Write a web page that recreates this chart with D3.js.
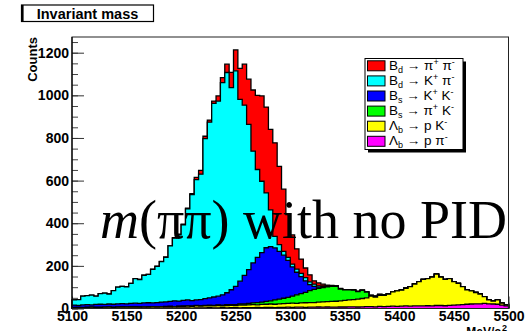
<!DOCTYPE html>
<html>
<head>
<meta charset="utf-8">
<script src="https://cdn.jsdelivr.net/npm/d3@7/dist/d3.min.js"></script>
<style>
  body { margin: 0; background: #fff; }
  text { font-family: "Liberation Sans", Arial, Helvetica, sans-serif; }
</style>
</head>
<body>
<div id="viz"></div>
<script>
// histogram binning: 100 bins of 4 MeV from 5100 to 5500
const binLow = 5100, binWidth = 4, nBins = 100;

// counts per bin for each decay (read off the plot, not stacked)
const lbppi = [1,2,1,2,2,1,2,2,1,2, 2,2,1,2,2,2,3,2,2,3, 2,3,3,2,3,3,3,2,3,3,
  3,4,3,3,4,3,4,4,3,4, 4,4,5,4,5,5,4,5,5,6, 5,6,6,5,6,6,7,6,7,6,
  6,7,7,8,8,7,8,9,9,8, 10,9,10,11,10,11,12,11,12,12, 12,13,12,14,14,13,15,16,17,18,
  20,21,22,22,24,22,21,20,16,12];
const lbpk = [3,3,3,3,4,4,3,4,5,3, 4,5,5,5,5,4,5,5,6,5, 6,6,6,6,7,7,8,8,9,8,
  9,9,9,11,9,11,11,10,13,12, 13,14,12,15,15,16,16,17,18,18, 20,18,20,22,22,22,23,25,25,27,
  28,29,31,32,34,37,39,41,49,46, 52,53,57,67,73,75,83,92,103,114, 125,127,135,147,133,124,125,110,101,85,
  67,62,53,46,32,18,14,20,9,5];
const bspik = [1,0,1,1,0,1,1,0,1,1, 1,0,1,1,1,1,0,1,1,1, 1,1,2,1,1,2,1,2,2,2,
  2,3,2,3,3,4,3,4,5,5, 7,8,11,11,13,15,20,22,25,28, 33,40,44,49,56,62,64,67,70,71,
  70,55,49,48,44,35,38,27,3,3, 3,2,1,1,1,1,0,0,0,0, 0,0,0,0,0,0,0,0,0,0,
  0,0,0,0,0,0,0,0,0,0];
const bskk = [11,10,12,12,11,13,14,13,14,14, 15,16,15,16,17,17,18,19,17,19, 21,21,22,27,24,26,28,25,26,29,
  32,34,40,41,48,56,70,86,107,134, 158,188,212,232,252,254,244,224,202,174, 137,106,80,54,28,14,6,4,2,2,
  1,1,1,1,1,1,1,1,1,1, 1,1,1,0,0,0,0,0,0,0, 0,0,0,0,0,0,0,0,0,0,
  0,0,0,0,0,0,0,0,0,0];
const bdkpi = [24,27,41,42,46,39,50,53,47,64, 78,81,80,94,115,112,130,133,158,170, 190,209,261,294,311,355,427,497,565,588,
  751,824,908,915,996,1033,948,1011,853,799, 682,524,412,335,257,173,54,32,18,14, 13,15,15,15,13,10,6,4,2,1,
  1,1,1,0,0,0,0,0,0,0, 0,0,0,0,0,0,0,0,0,0, 0,0,0,0,0,0,0,0,0,0,
  0,0,0,0,0,0,0,0,0,0];
const bdpipi = [0,0,0,0,0,0,0,0,0,0, 0,0,0,0,0,0,1,0,1,1, 1,2,1,2,3,3,4,5,10,18,
  11,10,11,24,23,39,72,98,145,192, 212,287,348,400,403,377,439,367,292,200, 137,95,67,45,33,16,14,8,4,1,
  0,1,0,0,0,0,0,0,0,0, 0,0,0,0,0,0,0,0,0,0, 0,0,0,0,0,0,0,0,0,0,
  0,0,0,0,0,0,0,0,0,0];

// stacking order, bottom to top
const stackKeys = ["lbppi", "lbpk", "bspik", "bskk", "bdkpi", "bdpipi"];
const series = {lbppi, lbpk, bspik, bskk, bdkpi, bdpipi};
const colors = {
  "bdpipi": "#ff0000",
  "bdkpi": "#00ffff",
  "bskk": "#0000ff",
  "bspik": "#00ff00",
  "lbpk": "#ffff00",
  "lbppi": "#ff00ff"
};

// legend, top to bottom
const legendKeys = ["bdpipi", "bdkpi", "bskk", "bspik", "lbpk", "lbppi"];
const legendMother = ["B", "B", "B", "B", "Λ", "Λ"];
const legendSub = ["d", "d", "s", "s", "b", "b"];
const legendDaughters = [
  [["π", "+"], ["π", "-"]],
  [["K", "+"], ["π", "-"]],
  [["K", "+"], ["K", "-"]],
  [["π", "+"], ["K", "-"]],
  [["p", ""], ["K", "-"]],
  [["p", ""], ["π", "-"]]
];

const xTicks = [5100, 5150, 5200, 5250, 5300, 5350, 5400, 5450, 5500];
const yTicks = [0, 200, 400, 600, 800, 1000, 1200];

const W = 531, H = 331;
const plot = {left: 72, right: 508.5, top: 37, bottom: 308.5};

const svg = d3.select("#viz")
  .append("svg")
    .attr("width", W)
    .attr("height", H);

const rows = d3.range(nBins).map(i => {
  const r = {lo: binLow + i * binWidth};
  stackKeys.forEach(k => r[k] = series[k][i]);
  return r;
});
const stacked = d3.stack().keys(stackKeys)(rows);
const totals = rows.map(r => d3.sum(stackKeys, k => r[k]));

const x = d3.scaleLinear().domain([5100, 5500]).range([plot.left, plot.right]);
const y = d3.scaleLinear().domain([0, d3.max(totals) * 1.05]).range([plot.bottom, plot.top]);

// axes first, the histograms cover them like in ROOT
svg.append("g")
  .attr("transform", "translate(0," + plot.bottom + ")")
  .call(d3.axisBottom(x).tickValues(d3.range(5100, 5501, 10)).tickSize(-6).tickFormat(""))
  .call(g => g.select(".domain").remove())
  .selectAll("line").attr("stroke", "#444");

svg.append("g")
  .attr("transform", "translate(" + plot.left + ",0)")
  .call(d3.axisLeft(y).tickValues(d3.range(0, 1251, 50)).tickSize(-6).tickFormat(""))
  .call(g => g.select(".domain").remove())
  .selectAll("line").attr("stroke", "#444");

const yAxis = svg.append("g")
  .attr("transform", "translate(" + plot.left + ",0)")
  .call(d3.axisLeft(y).tickValues(yTicks).tickSize(-12).tickPadding(3).tickFormat(d3.format("d")));
yAxis.select(".domain").remove();
yAxis.selectAll("line").attr("stroke", "#333");
yAxis.selectAll("text")
  .attr("font-size", 14).attr("font-weight", "bold").attr("fill", "#000");

const xAxis = svg.append("g")
  .attr("transform", "translate(0," + plot.bottom + ")")
  .call(d3.axisBottom(x).tickValues(xTicks).tickSize(-12).tickPadding(3).tickFormat(d3.format("d")));
xAxis.select(".domain").remove();
xAxis.selectAll("line").attr("stroke", "#333");
xAxis.selectAll("text")
  .attr("font-size", 14).attr("font-weight", "bold").attr("fill", "#000");

// stacked histograms, drawn from the largest down
const steps = layer => layer.flatMap((d, i) => [
  [d.data.lo, d[1]], [d.data.lo + binWidth, d[1]]
]);
const area = d3.area()
  .x(p => x(p[0]))
  .y0(y(0))
  .y1(p => y(p[1]));
const line = d3.line()
  .x(p => x(p[0]))
  .y(p => y(p[1]));

const hist = svg.append("g");
stacked.slice().reverse().forEach(layer => {
  const pts = steps(layer);
  hist.append("path")
    .attr("d", area(pts))
    .attr("fill", colors[layer.key]);
  hist.append("path")
    .attr("d", line([[5100, 0]].concat(pts, [[5500, 0]])))
    .attr("fill", "none")
    .attr("stroke", "#000")
    .attr("stroke-width", 1.3);
});

// frame
svg.append("rect")
  .attr("x", plot.left).attr("y", plot.top)
  .attr("width", plot.right - plot.left).attr("height", plot.bottom - plot.top)
  .attr("fill", "none").attr("stroke", "#222").attr("stroke-width", 1);
svg.append("line")
  .attr("x1", plot.left).attr("x2", plot.left)
  .attr("y1", plot.top).attr("y2", plot.bottom)
  .attr("stroke", "#000").attr("stroke-width", 1.2);

// axis titles
svg.append("text")
  .attr("transform", "translate(37," + plot.top + ") rotate(-90)")
  .attr("text-anchor", "end")
  .attr("font-size", 13).attr("font-weight", "bold")
  .text("Counts");

svg.append("text")
  .attr("x", 501).attr("y", 335.5)
  .attr("text-anchor", "end")
  .attr("font-size", 12).attr("font-weight", "bold")
  .text("MeV/c");
svg.append("text")
  .attr("x", 502).attr("y", 331)
  .attr("font-size", 9).attr("font-weight", "bold")
  .text("2");

// title box
svg.append("rect")
  .attr("x", 21.5).attr("y", 5)
  .attr("width", 132).attr("height", 16.5)
  .attr("fill", "#fff").attr("stroke", "#000").attr("stroke-width", 1.2);
svg.append("line")
  .attr("x1", 22.5).attr("x2", 22.5).attr("y1", 5).attr("y2", 21.5)
  .attr("stroke", "#000").attr("stroke-width", 2.2);
svg.append("text")
  .attr("x", 87.5).attr("y", 18.8)
  .attr("text-anchor", "middle")
  .attr("font-size", 14.5).attr("font-weight", "bold")
  .text("Invariant mass");

// legend with ROOT style shadow
const leg = {x: 365, y: 58.5, w: 98, h: 91, row: 15.1};
svg.append("rect")
  .attr("x", leg.x + 3).attr("y", leg.y + 3)
  .attr("width", leg.w).attr("height", leg.h)
  .attr("fill", "#000");
svg.append("rect")
  .attr("x", leg.x).attr("y", leg.y)
  .attr("width", leg.w).attr("height", leg.h)
  .attr("fill", "#fff").attr("stroke", "#000").attr("stroke-width", 1);

legendKeys.forEach((k, i) => {
  const top = leg.y + 2.3 + i * leg.row;
  svg.append("rect")
    .attr("x", 367.5).attr("y", top)
    .attr("width", 17.5).attr("height", 10)
    .attr("fill", colors[k]).attr("stroke", "#000").attr("stroke-width", 1);
  const t = svg.append("text")
    .attr("x", 389).attr("y", top + 9)
    .attr("font-size", 13.5);
  t.append("tspan").text(legendMother[i]);
  t.append("tspan").attr("font-size", 9).attr("dy", 3).text(legendSub[i]);
  t.append("tspan").attr("dy", -3).text(" → ");
  legendDaughters[i].forEach((d, j) => {
    t.append("tspan").attr("dy", j > 0 && legendDaughters[i][j - 1][1] ? 5 : 0)
      .text((j > 0 ? " " : "") + d[0]);
    if (d[1]) {
      t.append("tspan").attr("font-size", 9).attr("dy", -5).text(d[1]);
    }
  });
});

// big annotation over the plot
const note = svg.append("text")
  .attr("x", 100).attr("y", 238)
  .style("font-family", "'Liberation Serif', 'Times New Roman', serif")
  .attr("font-size", 54);
note.append("tspan").attr("font-style", "italic").text("m");
note.append("tspan").text("(ππ) with no PID");
</script>
</body>
</html>
